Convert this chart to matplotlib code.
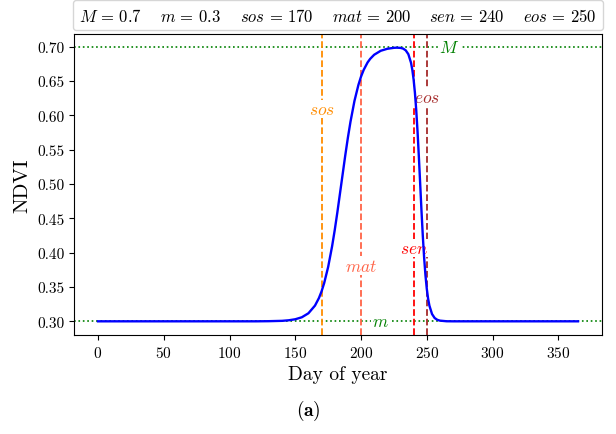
import matplotlib
matplotlib.use("Agg")
import matplotlib.pyplot as plt
from matplotlib.lines import Line2D

plt.rcParams['font.family'] = ['cmr10', 'DejaVu Serif']
plt.rcParams['mathtext.fontset'] = 'cm'
plt.rcParams['axes.formatter.use_mathtext'] = True

# ---- data ----
days = [0, 100, 120, 130, 140, 145, 150, 155, 160, 165, 168, 170, 172, 175, 178,
        180, 182, 185, 188, 190, 192, 195, 198, 200, 202, 205, 207, 210, 215, 220,
        225, 227, 230, 232, 234, 236, 238, 239, 240, 241, 242, 243, 244, 245, 246,
        247, 248, 249, 250, 251, 252, 254, 256, 258, 260, 265, 270, 365]
ndvi = [0.3000, 0.3000, 0.3000, 0.3002, 0.3007, 0.3015, 0.3030, 0.3059, 0.3117,
        0.3229, 0.3339, 0.3436, 0.3558, 0.3791, 0.4092, 0.4327, 0.4586, 0.5000,
        0.5414, 0.5673, 0.5908, 0.6209, 0.6442, 0.6564, 0.6661, 0.6771, 0.6824,
        0.6883, 0.6941, 0.6970, 0.6984, 0.6986, 0.6983, 0.6973, 0.6947, 0.6891,
        0.6768, 0.6665, 0.6521, 0.6327, 0.6073, 0.5759, 0.5394, 0.4999, 0.4604,
        0.4239, 0.3925, 0.3671, 0.3476, 0.3332, 0.3229, 0.3106, 0.3048, 0.3022,
        0.3010, 0.3001, 0.3000, 0.3000]

M, m = 0.7, 0.3
event_names = ['sos', 'mat', 'sen', 'eos']
event_days = [170, 200, 240, 250]
event_colors = ['darkorange', 'tomato', 'red', 'brown']
event_label_y = [0.609, 0.381, 0.407, 0.626]
legend_labels = [r'$M \,=\, 0.7$', r'$m \,=\, 0.3$', r'$sos \,=\, 170$',
                 r'$mat \,=\, 200$', r'$sen \,=\, 240$', r'$eos \,=\, 250$']
xticks = [0, 50, 100, 150, 200, 250, 300, 350]
yticks = [0.30, 0.35, 0.40, 0.45, 0.50, 0.55, 0.60, 0.65, 0.70]

fig = plt.figure(figsize=(6.16, 4.35), dpi=100)
ax = fig.add_axes([74/616, 99/435, 528/616, 301/435])

ax.plot(days, ndvi, color='blue', lw=1.7, zorder=3)
ax.axhline(M, color='green', ls=':', lw=1.2, zorder=1)
ax.axhline(m, color='green', ls=':', lw=1.2, zorder=1)
ax.text(267, M, r'$M$', color='green', fontsize=12.5, ha='center', va='center',
        bbox=dict(facecolor='white', edgecolor='none', pad=1), zorder=2)
ax.text(215, m, r'$m$', color='green', fontsize=12.5, ha='center', va='center',
        bbox=dict(facecolor='white', edgecolor='none', pad=1), zorder=2)

for name, d, c, ly in zip(event_names, event_days, event_colors, event_label_y):
    ax.axvline(d, color=c, ls='--', lw=1.3, zorder=1)
    ax.text(d, ly, r'$%s$' % name, color=c, fontsize=12.5, ha='center', va='center',
            bbox=dict(facecolor='white', edgecolor='none', pad=1), zorder=2)

ax.set_xticks(xticks)
ax.set_yticks(yticks)
ax.set_yticklabels(['%.2f' % v for v in yticks])
ax.tick_params(labelsize=11)
ax.set_xlabel('Day of year', fontsize=14)
ax.set_ylabel('NDVI', fontsize=15)

handles = [Line2D([], [], linestyle='none') for _ in legend_labels]
ax.legend(handles, legend_labels, loc='lower center', bbox_to_anchor=(0.5, 1.0),
          ncol=6, handlelength=0, handletextpad=0, columnspacing=1.1,
          borderaxespad=0.22, borderpad=0.4, fontsize=12, frameon=True)

fig.text(0.5, 0.055, r'$\mathbf{(a)}$', ha='center', va='center', fontsize=14)

fig.savefig('out.png', dpi=100)
